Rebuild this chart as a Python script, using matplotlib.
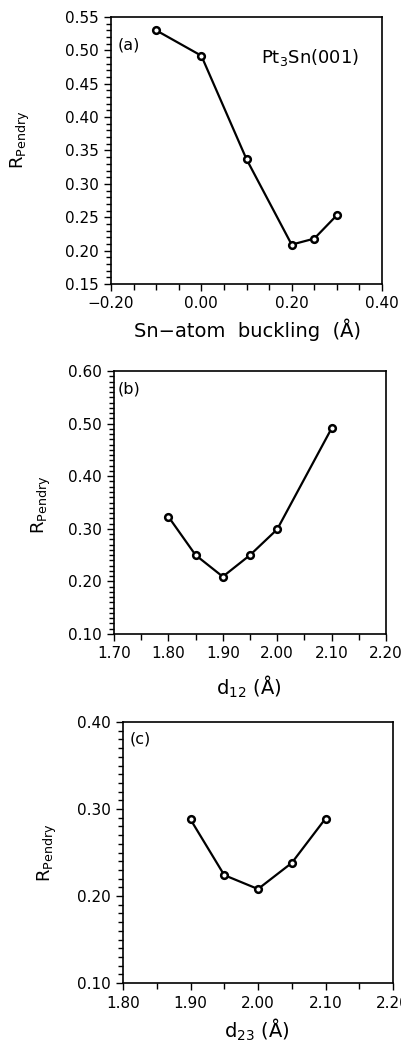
import matplotlib
matplotlib.use("Agg")
import matplotlib.pyplot as plt
from matplotlib.ticker import MultipleLocator, FuncFormatter

# Data
buckling = [-0.10, 0.00, 0.10, 0.20, 0.25, 0.30]
r_a = [0.530, 0.492, 0.337, 0.209, 0.218, 0.253]
d12 = [1.80, 1.85, 1.90, 1.95, 2.00, 2.10]
r_b = [0.323, 0.250, 0.209, 0.250, 0.299, 0.491]
d23 = [1.90, 1.95, 2.00, 2.05, 2.10]
r_c = [0.288, 0.224, 0.208, 0.238, 0.289]

W, H = 401, 1044
plt.rcParams['font.family'] = ['DejaVu Sans']
fig = plt.figure(figsize=(W / 100, H / 100), dpi=100)

def add_ax(left, right, top, bottom):
    return fig.add_axes([left / W, (H - bottom) / H, (right - left) / W, (bottom - top) / H])

fmt = FuncFormatter(lambda v, p: ("%.2f" % v).replace("-", "\u2212") if abs(v) > 1e-9 else "0.00")

def style(ax, xlim, ylim, xmaj, xmin, ymaj, ymin):
    ax.set_xlim(*xlim)
    ax.set_ylim(*ylim)
    ax.xaxis.set_major_locator(MultipleLocator(xmaj))
    ax.xaxis.set_minor_locator(MultipleLocator(xmin))
    ax.yaxis.set_major_locator(MultipleLocator(ymaj))
    ax.yaxis.set_minor_locator(MultipleLocator(ymin))
    ax.xaxis.set_major_formatter(fmt)
    ax.yaxis.set_major_formatter(fmt)
    ax.tick_params(which='both', direction='out', top=False, right=False, width=1.0,
                   labelsize=11, colors='black')
    ax.tick_params(which='major', length=5, pad=4)
    ax.tick_params(which='minor', length=3.5)
    ax.tick_params(axis='x', which='minor', length=4)
    for s in ax.spines.values():
        s.set_linewidth(1.2)

def labels(ax, xl, xlx, xly, ylx, yly):
    ax.set_xlabel(xl, fontsize=14)
    ax.xaxis.label.set_va('center')
    ax.xaxis.set_label_coords(xlx, xly)
    ax.set_ylabel(r"R$_{\mathrm{Pendry}}$", fontsize=13)
    ax.yaxis.label.set_va('center')
    ax.yaxis.set_label_coords(ylx, yly)

line_kw = dict(color='black', lw=1.6, marker='o', ms=4.8, mfc='white', mec='black', mew=1.8)

# (a)
ax1 = add_ax(111, 382, 17, 284)
ax1.plot(buckling, r_a, **line_kw)
style(ax1, (-0.2, 0.4), (0.15, 0.55), 0.2, 0.05, 0.05, 0.01)
ax1.text(0.026, 0.895, "(a)", transform=ax1.transAxes, fontsize=11.5, va='center', ha='left')
ax1.text(0.915, 0.85, r"Pt$_3$Sn(001)", transform=ax1.transAxes, fontsize=13, va='center', ha='right')
labels(ax1, "Sn\u2212atom  buckling  (Å)", 0.502, -0.172, -0.336, 0.539)

# (b)
ax2 = add_ax(114, 386, 371, 634)
ax2.plot(d12, r_b, **line_kw)
style(ax2, (1.7, 2.2), (0.10, 0.60), 0.1, 0.05, 0.1, 0.01)
ax2.text(0.015, 0.93, "(b)", transform=ax2.transAxes, fontsize=11.5, va='center', ha='left')
labels(ax2, r"d$_{12}$ (Å)", 0.496, -0.2, -0.268, 0.49)

# (c)
ax3 = add_ax(123, 393, 722, 983)
ax3.plot(d23, r_c, **line_kw)
style(ax3, (1.8, 2.2), (0.10, 0.40), 0.1, 0.05, 0.1, 0.01)
ax3.text(0.026, 0.935, "(c)", transform=ax3.transAxes, fontsize=11.5, va='center', ha='left')
labels(ax3, r"d$_{23}$ (Å)", 0.497, -0.178, -0.281, 0.498)

fig.savefig("out.png", dpi=100, facecolor='white')
